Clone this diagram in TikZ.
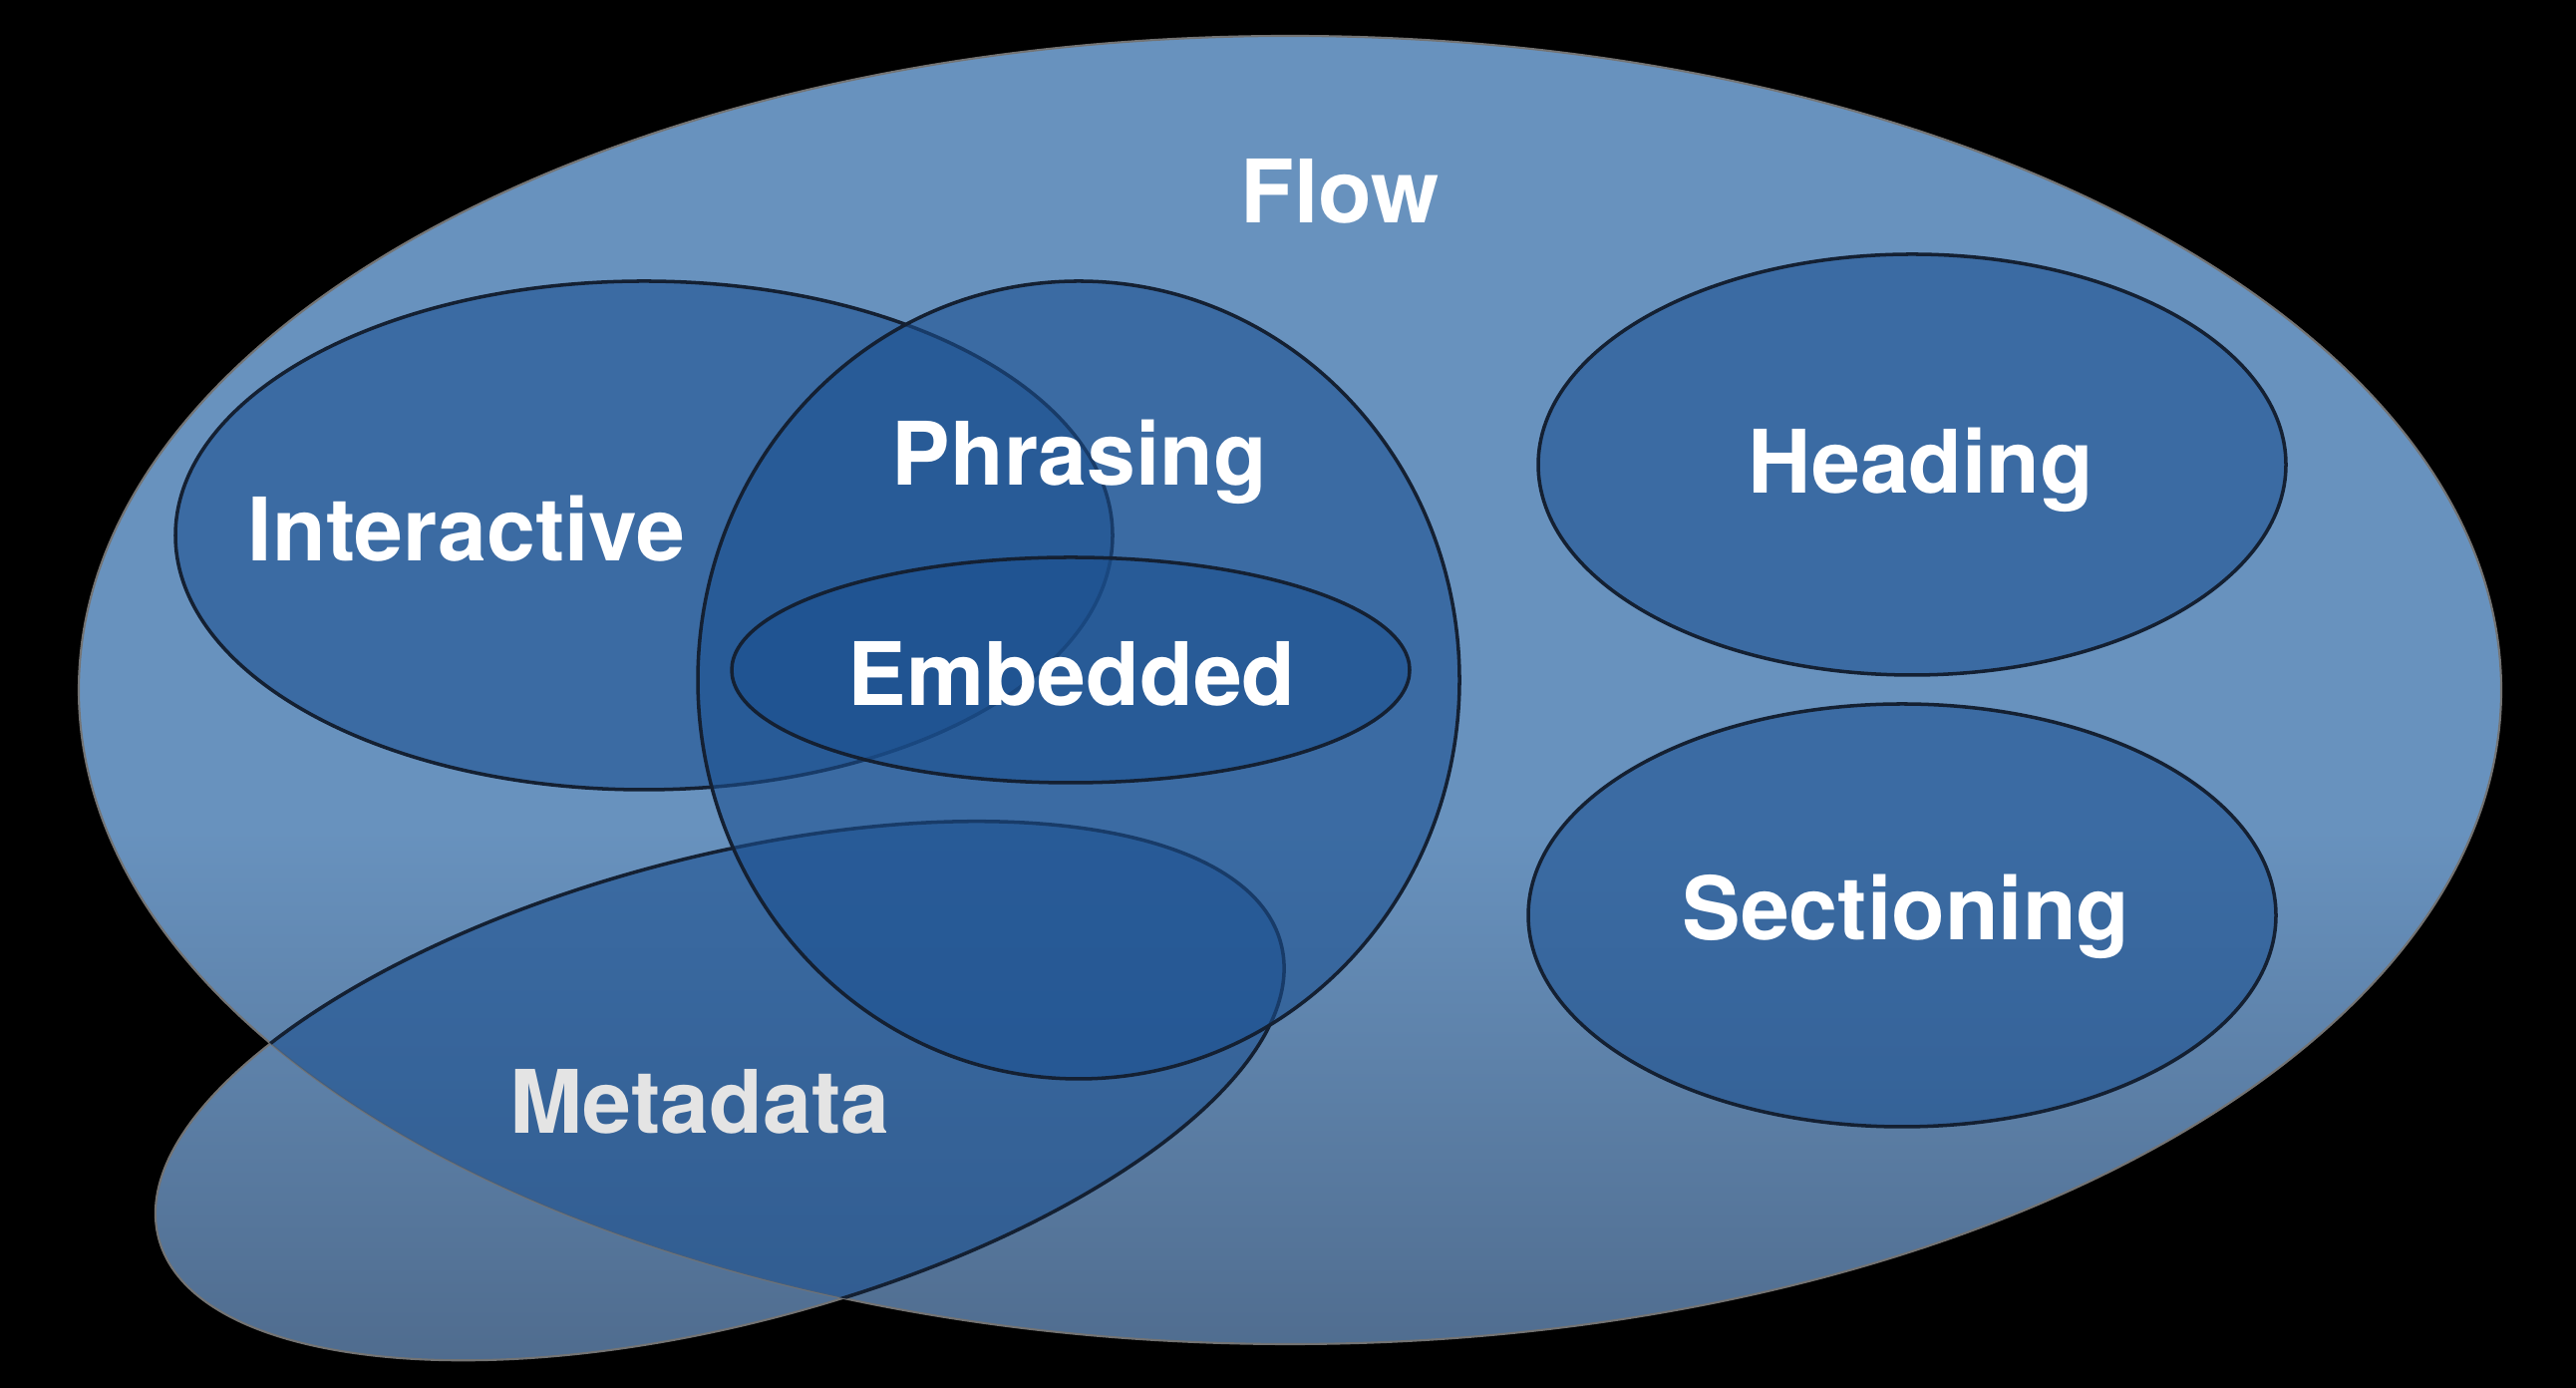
\documentclass[tikz,border=0pt]{standalone}
\usepackage{fontspec}
\setmainfont{TeX Gyre Heros}
\usepackage{tikz}
\usetikzlibrary{calc}

\definecolor{flowtop}{RGB}{104,146,190}
\definecolor{flowbot}{RGB}{78,106,140}
\definecolor{setblue}{RGB}{27,80,144}
\definecolor{setline}{RGB}{20,32,50}
\definecolor{metagray}{RGB}{228,228,228}

\begin{document}
\begin{tikzpicture}[
    setfill/.style={fill=setblue, fill opacity=0.58, draw=setline, line width=1pt},
    setname/.style={font=\fontsize{25}{30}\selectfont\bfseries, text=white, inner sep=0pt, anchor=base},
    bgshade/.style={top color=flowtop, bottom color=flowbot}
  ]
      \useasboundingbox[fill=black] (0,0) rectangle (25.84,13.92);
      % flow and the bit of metadata outside it
      \begin{scope}
        \clip (12.94,7.00) ellipse (12.15 and 6.56);
        \fill[flowtop] (0,0) rectangle (25.84,13.92);
        \shade[bgshade] (0,0) rectangle (25.84,5.6);
      \end{scope}
      \begin{scope}
        \clip[rotate around={14.7:(7.22,2.98)}] (7.22,2.98) ellipse (5.82 and 2.34);
        \fill[flowtop] (0,0) rectangle (25.84,13.92);
        \shade[bgshade] (0,0) rectangle (25.84,5.6);
      \end{scope}
      \draw[black!55, line width=0.6pt] (12.94,7.00) ellipse (12.15 and 6.56);
      \draw[black!55, line width=0.6pt, rotate around={14.7:(7.22,2.98)}] (7.22,2.98) ellipse (5.82 and 2.34);
      \begin{scope}
        \clip (12.94,7.00) ellipse (12.15 and 6.56);
        \draw[setfill, rotate around={14.7:(7.22,2.98)}] (7.22,2.98) ellipse (5.82 and 2.34);
      \end{scope}
      % inner sets
      \draw[setfill] (6.46,8.55) ellipse (4.70 and 2.55);
      \draw[setfill] (10.82,7.10) ellipse (3.82 and 4.00);
      \draw[setfill] (10.74,7.20) ellipse (3.40 and 1.13);
      \draw[setfill] (19.18,9.26) ellipse (3.75 and 2.11);
      \draw[setfill] (19.08,4.74) ellipse (3.75 and 2.12);
      % names
      \node[setname] (flow) at (13.44,11.68) {Flow};
      \node[setname] (interactive) at (4.68,8.29) {Interactive};
      \node[setname] (phrasing) at (10.83,9.05) {Phrasing};
      \node[setname] (embedded) at (10.75,6.84) {Embedded};
      \node[setname] (heading) at (19.27,8.97) {Heading};
      \node[setname] (sectioning) at (19.12,4.49) {Sectioning};
      \node[setname, text=metagray] (metadata) at (7.02,2.55) {Metadata};
\end{tikzpicture}
\end{document}
